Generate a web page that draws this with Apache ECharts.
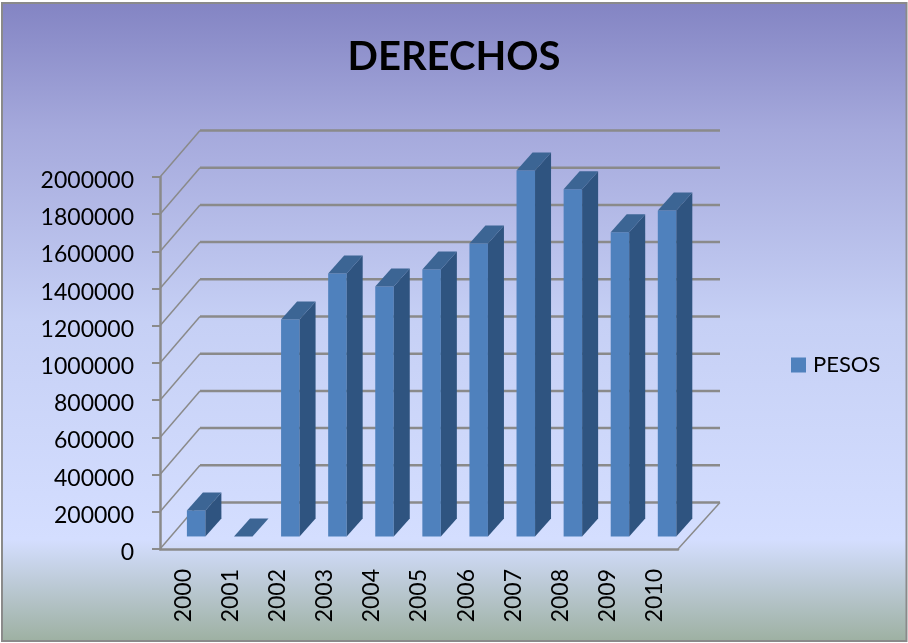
<!DOCTYPE html>
<html>
<head>
<meta charset="utf-8">
<style>
html, body { margin: 0; padding: 0; background: #fff; }
#chart { width: 908px; height: 643px; }
</style>
<script src="https://cdn.jsdelivr.net/npm/echarts@6/dist/echarts.min.js"></script>
</head>
<body>
<div id="chart"></div>
<script>
const years = ['2000', '2001', '2002', '2003', '2004', '2005', '2006', '2007', '2008', '2009', '2010'];
const pesos = [140000, 0, 1166000, 1414000, 1344000, 1435000, 1575000, 1968000, 1867000, 1636000, 1753000];
const wallTicks = [0, 200000, 400000, 600000, 800000, 1000000, 1200000, 1400000, 1600000, 1800000, 2000000];

// depth of the fake 3d box, in pixels
const DEPTH_X = 40;
const DEPTH_Y = -46.5;
const GREY = '#8a8a8a';
const FONT = 'Lato';

function renderWall(params, api) {
    const v = api.value(0);
    const band = api.size([1, 0])[0];
    const left = api.coord([0, v]);
    const x0 = left[0] - band / 2;
    const x1 = x0 + band * years.length;
    const y = left[1];
    const line = (pts, w) => ({
        type: 'polyline',
        shape: { points: pts },
        style: { fill: null, stroke: GREY, lineWidth: w }
    });
    const children = [
        line([[x0, y], [x0 + DEPTH_X, y + DEPTH_Y]], 1.5),
        line([[x0 + DEPTH_X, y + DEPTH_Y], [x1 + DEPTH_X + 2, y + DEPTH_Y]], 2.5)
    ];
    if (v === 0) {
        children.push(line([[x1, y], [x1 + DEPTH_X + 2, y + DEPTH_Y]], 1.5));
    }
    return { type: 'group', children: children };
}

function renderBar(params, api) {
    const idx = api.value(0);
    const val = api.value(1);
    const base = api.coord([idx, 0]);
    const top = api.coord([idx, val]);
    const w = 18.5;
    const fx = 0.29 * DEPTH_X;
    const fy = 0.27 * DEPTH_Y;
    const dx = 16;
    const dy = -18;
    const l = base[0] + fx - w / 2 + 1;
    const r = l + w;
    const yb = base[1] + fy;
    const yt = top[1] + fy;
    const poly = (pts, color) => ({
        type: 'polygon',
        shape: { points: pts },
        style: { fill: color, stroke: null }
    });
    const children = [];
    if (val > 0) {
        children.push(poly([[l, yt], [r, yt], [r, yb], [l, yb]], '#4f81bd'));
        children.push(poly([[r, yt], [r + dx, yt + dy], [r + dx, yb + dy], [r, yb]], '#2f5480'));
    }
    children.push(poly([[l, yt], [r, yt], [r + dx, yt + dy], [l + dx, yt + dy]], '#3c6594'));
    return { type: 'group', children: children };
}

const chart = echarts.init(document.getElementById('chart'));
chart.setOption({
    animation: false,
    title: {
        text: 'DERECHOS',
        left: 'center',
        top: 32,
        textStyle: { fontFamily: FONT, fontSize: 40, fontWeight: 'bold', color: '#000' }
    },
    legend: {
        data: ['PESOS'],
        left: 791,
        top: 354,
        padding: 0,
        icon: 'rect',
        itemWidth: 15,
        itemHeight: 15,
        itemGap: 0,
        textStyle: { fontFamily: FONT, fontSize: 22, color: '#000', padding: [0, 0, 0, 2] }
    },
    grid: { left: 160, top: 177, width: 518, height: 372 },
    xAxis: {
        type: 'category',
        data: years,
        axisLine: { lineStyle: { color: GREY, width: 2.5 } },
        axisTick: { length: 7, alignWithLabel: false, lineStyle: { color: GREY, width: 2 } },
        axisLabel: { rotate: 90, interval: 0, margin: 20, fontFamily: FONT, fontSize: 23, color: '#000' }
    },
    yAxis: {
        type: 'value',
        min: 0,
        max: 2000000,
        interval: 200000,
        axisLine: { show: true, lineStyle: { color: GREY, width: 2.5 } },
        axisTick: { show: true, length: 8, lineStyle: { color: GREY, width: 2 } },
        splitLine: { show: false },
        axisLabel: {
            margin: 26,
            color: '#000',
            formatter: v => '{n|' + v + '}',
            rich: { n: { fontFamily: FONT, fontSize: 23, color: '#000', padding: [7, 0, 0, 0] } }
        }
    },
    graphic: [{
        type: 'rect',
        z: -10,
        silent: true,
        shape: { x: 2, y: 3, width: 904.5, height: 638 },
        style: {
            stroke: GREY,
            lineWidth: 2,
            fill: new echarts.graphic.LinearGradient(0, 0, 0, 1, [
                { offset: 0, color: '#8384c3' },
                { offset: 0.2, color: '#a5a9dc' },
                { offset: 0.5, color: '#c6d0f5' },
                { offset: 0.84, color: '#d4deff' },
                { offset: 1, color: '#9db0a1' }
            ])
        }
    }],
    series: [
        {
            name: 'wall',
            type: 'custom',
            z: 1,
            silent: true,
            renderItem: renderWall,
            encode: { y: 0 },
            data: wallTicks.map(v => [v])
        },
        {
            name: 'PESOS',
            type: 'custom',
            z: 2,
            itemStyle: { color: '#4f81bd' },
            renderItem: renderBar,
            encode: { x: 0, y: 1 },
            data: years.map((y, i) => [i, pesos[i]])
        }
    ]
});
</script>
</body>
</html>
